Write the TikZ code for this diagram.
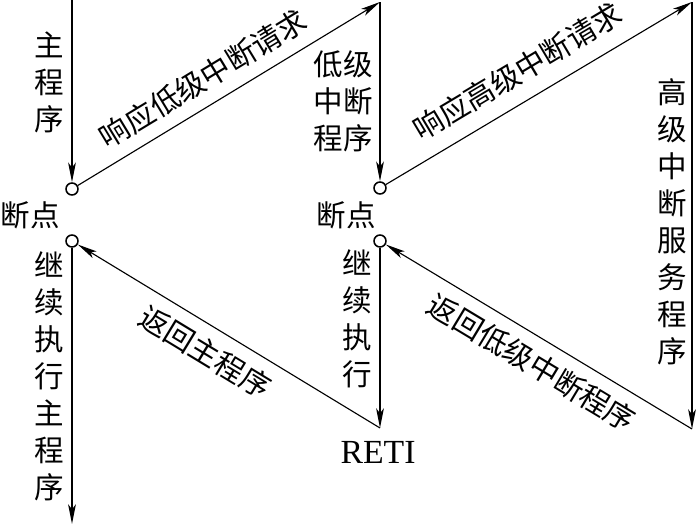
\documentclass[tikz,border=0pt]{standalone}
\usepackage{fontspec}
\setmainfont{Liberation Serif}
\newfontfamily\cjk{Noto Sans CJK SC}
\usetikzlibrary{arrows.meta}

\begin{document}
\begin{tikzpicture}[x=0.025cm, y=-0.025cm,
  flow/.style={-{Stealth[length=14pt, width=5.5pt, inset=3.5pt]}, line width=0.8pt},
  back/.style={{Stealth[length=14pt, width=5.5pt, inset=3.5pt]}-, line width=0.8pt},
  bpoint/.style={circle, draw, line width=1.1pt, minimum size=0.3cm, inner sep=0pt},
  txt/.style={font=\cjk\fontsize{21}{26.3}\selectfont, align=center, inner sep=0pt}]
\useasboundingbox (0,0) rectangle (697,526);

% Breakpoints (small hollow circles)
\node[bpoint] (bpA)  at (72,189) {};
\node[bpoint] (bpAr) at (72,241) {};
\node[bpoint] (bpB)  at (380,188) {};
\node[bpoint] (bpBr) at (380,241) {};

% Corner points of the flow
\coordinate (start)   at (72,0);
\coordinate (topA)    at (380,2);
\coordinate (topB)    at (692,2);
\coordinate (botB)    at (692,429);
\coordinate (retiTop) at (380,428);
\coordinate (finish)  at (72,524);

% Interrupt requests
\draw[flow] (start) -- (bpA);
\draw[flow] (bpA) -- (topA) node[txt, pos=0.46, sloped, yshift=0.66cm] {响应低级中断请求};
\draw[flow] (topA) -- (bpB);
\draw[flow] (bpB) -- (topB) node[txt, pos=0.48, sloped, yshift=0.74cm] {响应高级中断请求};
\draw[flow] (topB) -- (botB);

% Returns
\draw[back] (bpBr) -- (botB) node[txt, pos=0.52, sloped, yshift=-0.64cm] {返回低级中断程序};
\draw[flow] (bpBr) -- (retiTop);
\draw[back] (bpAr) -- (retiTop) node[txt, pos=0.465, sloped, yshift=-0.64cm] {返回主程序};
\draw[flow] (bpAr) -- (finish);

% Program labels
\node[txt] (mainLbl) at (49,82)  {主\\程\\序};
\node[txt] (lowLbl)  at (343,101) {低级\\中断\\程序};
\node[txt] (highLbl) at (672,222) {高\\级\\中\\断\\服\\务\\程\\序};
\node[txt] (contA)   at (49,376) {继\\续\\执\\行\\主\\程\\序};
\node[txt] (contB)   at (357,319) {继\\续\\执\\行};
\node[txt] (bpAlbl)  at (30,215) {断点};
\node[txt] (bpBlbl)  at (346,215) {断点};
\node[font=\fontsize{24}{28}\selectfont, inner sep=0pt] (reti) at (378,452) {RETI};

\end{tikzpicture}
\end{document}
